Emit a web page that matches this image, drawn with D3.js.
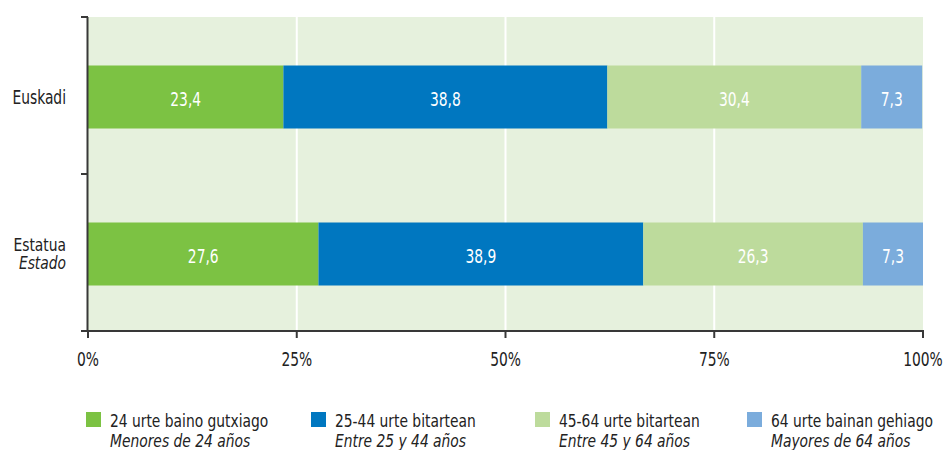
<!DOCTYPE html>
<html>
<meta charset="utf-8">
<style>
    body { margin: 0; background: #fff; }
    text { font-family: "DejaVu Sans Condensed", "DejaVu Sans", sans-serif; font-size: 19px; }
</style>
<body>
<script src="https://cdn.jsdelivr.net/npm/d3@7"></script>
<div id="chart"></div>
<script>
    // data
    var regions = ["Euskadi", "Estatua"];
    var regionSub = ["", "Estado"];
    var groups = ["g1", "g2", "g3", "g4"];
    var euskadi = [23.4, 38.8, 30.4, 7.3];
    var estado = [27.6, 38.9, 26.3, 7.3];
    var legendMain = ["24 urte baino gutxiago", "25-44 urte bitartean", "45-64 urte bitartean", "64 urte bainan gehiago"];
    var legendSub = ["Menores de 24 años", "Entre 25 y 44 años", "Entre 45 y 64 años", "Mayores de 64 años"];
    var xTicks = [0, 25, 50, 75, 100];
    var colors = ["#7cc243", "#0077c0", "#bddb9c", "#7bacdc"];

    var values = [euskadi, estado];

    var width = 945, height = 450;
    var margin = { top: 17, right: 22, bottom: 119, left: 88 };
    var innerW = width - margin.left - margin.right;
    var innerH = height - margin.top - margin.bottom;
    var squeeze = 0.81; // narrow the font to look condensed

    var svg = d3.select("#chart").append("svg")
        .attr("width", width)
        .attr("height", height);

    var g = svg.append("g")
        .attr("transform", "translate(" + margin.left + "," + margin.top + ")");

    function label(parent, x, y, str, anchor, fill, italic, size) {
        size = size || 19;
        var t = parent.append("g")
            .attr("transform", "translate(" + x + "," + y + ") scale(" + (squeeze * 19 / size) + ",1)")
            .append("text")
            .attr("text-anchor", anchor)
            .attr("fill", fill)
            .style("font-size", size + "px")
            .text(str);
        if (italic) t.style("font-style", "italic");
        return t;
    }

    var x = d3.scaleLinear().domain([0, 100]).range([0, innerW]);
    var y = d3.scaleBand().domain(regions).range([0, innerH]);
    var barH = 63;

    g.append("rect")
        .attr("width", innerW).attr("height", innerH)
        .attr("fill", "#e6f1dd");

    g.selectAll(".grid").data([25, 50, 75]).enter().append("line")
        .attr("x1", d => x(d)).attr("x2", d => x(d))
        .attr("y1", 0).attr("y2", innerH)
        .attr("stroke", "#fff").attr("stroke-width", 2);

    // segments
    regions.forEach(function (r, i) {
        var acc = 0;
        var yc = y(r) + y.bandwidth() / 2 + 1.5;
        values[i].forEach(function (v, j) {
            var x0 = acc, x1 = Math.min(acc + v, 100);
            acc += v;
            g.append("rect")
                .attr("x", x(x0)).attr("y", yc - barH / 2)
                .attr("width", x(x1) - x(x0)).attr("height", barH)
                .attr("fill", colors[j]);
            label(g, (x(x0) + x(x1)) / 2, yc + 9, d3.format(".1f")(v).replace(".", ","), "middle", "#fff");
        });
    });

    // axes
    var axisColor = "#383838";
    g.append("line").attr("x1", -0.5).attr("x2", -0.5).attr("y1", 0).attr("y2", innerH)
        .attr("stroke", axisColor).attr("stroke-width", 2);
    g.selectAll(".ytick").data([0, innerH / 2, innerH]).enter().append("line")
        .attr("x1", -7).attr("x2", 0).attr("y1", d => d).attr("y2", d => d)
        .attr("stroke", axisColor).attr("stroke-width", 2);
    g.append("line").attr("x1", -7).attr("x2", innerW + 1).attr("y1", innerH).attr("y2", innerH)
        .attr("stroke", axisColor).attr("stroke-width", 2);
    g.selectAll(".xtick").data(xTicks).enter().append("line")
        .attr("x1", d => x(d)).attr("x2", d => x(d))
        .attr("y1", innerH).attr("y2", innerH + 7)
        .attr("stroke", axisColor).attr("stroke-width", 2);
    xTicks.forEach(function (d) {
        label(g, x(d), innerH + 35, d + "%", "middle", "#222");
    });

    // category labels
    regions.forEach(function (r, i) {
        var yc = y(r) + y.bandwidth() / 2 + 1.5;
        if (regionSub[i]) {
            label(g, -22, yc - 3, r, "end", "#222", false, 17);
            label(g, -22, yc + 15, regionSub[i], "end", "#222", true, 17);
        } else {
            label(g, -22, yc + 7, r, "end", "#222");
        }
    });

    // legend
    var legendX = [86, 311, 535, 747];
    groups.forEach(function (d, i) {
        var lg = svg.append("g").attr("transform", "translate(" + legendX[i] + ",412)");
        lg.append("rect").attr("width", 15).attr("height", 15).attr("fill", colors[i]);
        label(lg, 24, 15, legendMain[i], "start", "#222", false, 17);
        label(lg, 24, 35, legendSub[i], "start", "#222", true, 17);
    });
</script>
</body>
</html>
